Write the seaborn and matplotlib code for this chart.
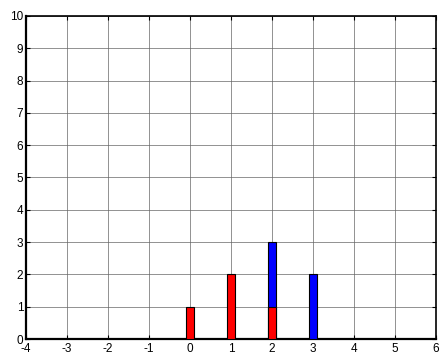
import matplotlib
matplotlib.use("Agg")
import matplotlib.pyplot as plt
import seaborn as sns
import pandas as pd

# Data
positions = [0, 1, 2, 3]
red_values = [1, 2, 1, 0]
blue_values = [0, 0, 2, 2]
x_ticks = list(range(-4, 7))
y_ticks = list(range(0, 11))

sns.set_style("white")
plt.rcParams['font.family'] = ['Liberation Sans', 'DejaVu Sans']

totals = [r + b for r, b in zip(red_values, blue_values)]
df_blue = pd.DataFrame({"x": [p for p, b in zip(positions, blue_values) if b > 0],
                        "y": [t for t, b in zip(totals, blue_values) if b > 0]})
df_red = pd.DataFrame({"x": [p for p, r in zip(positions, red_values) if r > 0],
                       "y": [r for r in red_values if r > 0]})

fig = plt.figure(figsize=(4.4, 3.54), dpi=100)
ax = fig.add_axes([26/440, 15/354, 410/440, 323/354])

sns.barplot(data=df_blue, x="x", y="y", native_scale=True, width=0.2,
            color="#0000ff", saturation=1, edgecolor="black", linewidth=0.8,
            errorbar=None, ax=ax, zorder=3)
sns.barplot(data=df_red, x="x", y="y", native_scale=True, width=0.2,
            color="#ff0000", saturation=1, edgecolor="black", linewidth=0.8,
            errorbar=None, ax=ax, zorder=3)

ax.set_xlim(-4, 6)
ax.set_ylim(0, 10)
ax.set_xticks(x_ticks)
ax.set_yticks(y_ticks)
ax.set_xticklabels([str(t) for t in x_ticks])
ax.set_yticklabels([str(t) for t in y_ticks])
ax.set_xlabel("")
ax.set_ylabel("")
ax.grid(True, color="#666666", linewidth=0.5, zorder=0)
ax.set_axisbelow(True)
for name, s in ax.spines.items():
    s.set_visible(True)
    s.set_color("black")
    s.set_linewidth(1.6 if name in ("left", "bottom") else 1.2)
ax.tick_params(direction="in", length=3, width=0.8, labelsize=8.5, pad=3,
               top=True, right=True, bottom=True, left=True, colors="black")
ax.tick_params(axis="y", pad=2)

fig.savefig("out.png", dpi=100)
